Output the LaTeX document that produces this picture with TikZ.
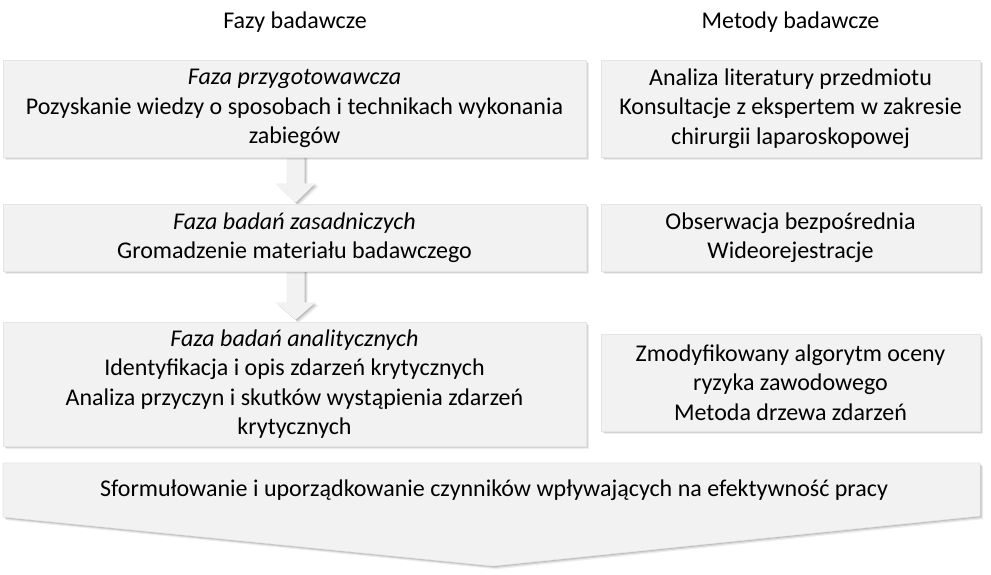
\documentclass[tikz,border=0pt]{standalone}
\usepackage{fontspec}
\setmainfont{Carlito}
\usetikzlibrary{calc,shadows,backgrounds}
\definecolor{boxfill}{HTML}{F2F2F2}
\tikzset{
  sh/.style={
    drop shadow={shadow xshift=0.75pt,shadow yshift=-0.75pt,fill=black,opacity=0.10},
    drop shadow={shadow xshift=1.5pt,shadow yshift=-1.5pt,fill=black,opacity=0.10},
    drop shadow={shadow xshift=2.4pt,shadow yshift=-2.4pt,fill=black,opacity=0.07}},
  txt/.style={font=\fontsize{18}{22}\selectfont, align=center},
  box/.style={sh, fill=boxfill, draw=black!10, line width=0.4pt, inner sep=0pt, txt},
  lbox/.style={box, minimum width=437.25pt},
  rbox/.style={box, minimum width=284.25pt},
  blockarrow/.style={sh, fill=boxfill},
  title/.style={txt}
}
\begin{document}
\begin{tikzpicture}[x=0.75pt,y=-0.75pt]
\useasboundingbox (0,0) rectangle (991,574);

\node[title] (t1) at (295,22) {Fazy badawcze};
\node[title] (t2) at (790.5,22) {Metody badawcze};

% result chevron
\path[sh, fill=boxfill, draw=black!10, line width=0.4pt]
  (3,463) coordinate (c1) -- (980,463) coordinate (c2) -- (980,516) coordinate (c3)
  -- (493,566) coordinate (c4) -- (3,517) coordinate (c5) -- cycle;
\node[txt] (res) at (494,490) {Sformułowanie i uporządkowanie czynników wpływających na efektywność pracy};

% phase boxes
\node[lbox, minimum height=72.75pt] (b1) at (294.5,108.5)
  {\textit{Faza przygotowawcza}\\Pozyskanie wiedzy o sposobach i technikach wykonania\\zabiegów};
\node[lbox, minimum height=50.25pt] (b2) at (294.5,237.5)
  {\textit{Faza badań zasadniczych}\\Gromadzenie materiału badawczego};
\node[lbox, minimum height=93pt] (b3) at (294.5,384)
  {\textit{Faza badań analitycznych}\\Identyfikacja i opis zdarzeń krytycznych\\Analiza przyczyn i skutków wystąpienia zdarzeń\\krytycznych};

% block arrows (behind the boxes)
\begin{scope}[on background layer]
\fill[white] (0,0) rectangle (991,574);
\path[blockarrow] ($(b1.south)+(-8,-2)$) -- ($(b1.south)+(-8,26)$) -- ($(b1.south)+(-19,26)$)
  -- ($(b2.north)+(1,-1)$) -- ($(b1.south)+(21,26)$) -- ($(b1.south)+(10,26)$) -- ($(b1.south)+(10,-2)$) -- cycle;
\path[blockarrow] ($(b2.south)+(-8,-2)$) -- ($(b2.south)+(-8,31)$) -- ($(b2.south)+(-19,31)$)
  -- ($(b3.north)+(1,-2)$) -- ($(b2.south)+(21,31)$) -- ($(b2.south)+(10,31)$) -- ($(b2.south)+(10,-2)$) -- cycle;
\end{scope}

% method boxes
\node[rbox, minimum height=72.75pt] (m1) at (790.5,108.5)
  {Analiza literatury przedmiotu\\Konsultacje z ekspertem w zakresie\\chirurgii laparoskopowej};
\node[rbox, minimum height=50.25pt] (m2) at (790.5,237.5)
  {Obserwacja bezpośrednia\\Wideorejestracje};
\node[rbox, minimum height=72.75pt] (m3) at (790.5,382.5)
  {Zmodyfikowany algorytm oceny\\ryzyka zawodowego\\Metoda drzewa zdarzeń};
\end{tikzpicture}
\end{document}
